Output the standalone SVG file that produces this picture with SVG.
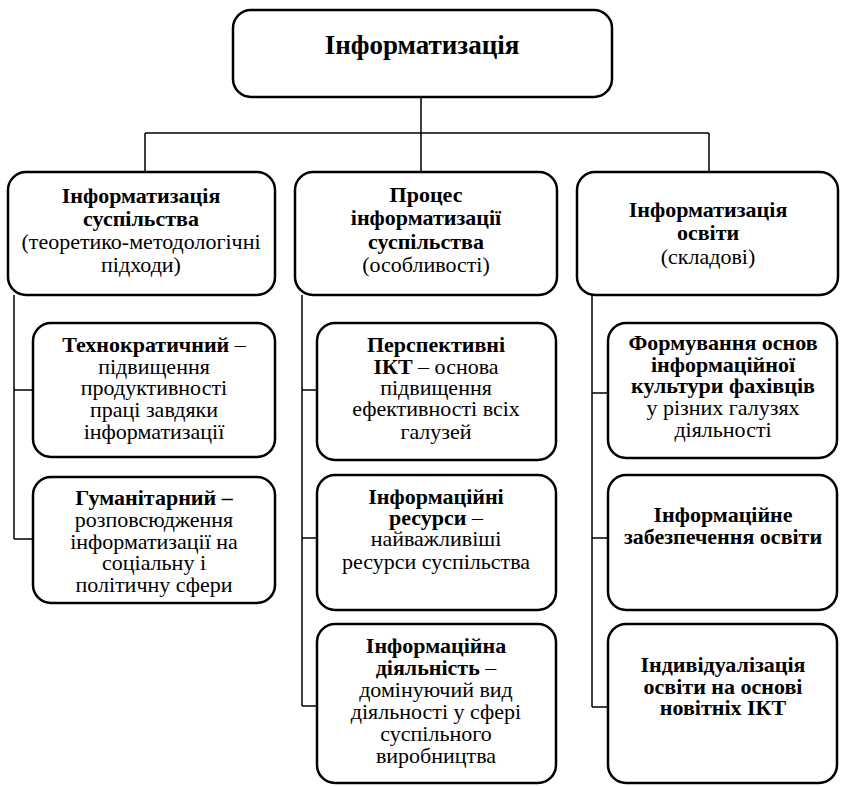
<svg xmlns="http://www.w3.org/2000/svg" width="846" height="786" viewBox="0 0 846 786" font-family="'Liberation Serif', 'DejaVu Serif', serif">
<style>
.box{fill:#fff;stroke:#000;stroke-width:2.5}
.c{fill:none;stroke:#000;stroke-width:1.5}
text{font-family:'Liberation Serif','DejaVu Serif',serif;font-size:22px;text-anchor:middle;fill:#000}
.b{font-weight:bold}
.t{font-size:27px;font-weight:bold}
</style>
<rect width="846" height="786" fill="#fff"/>
<g id="connectors">
<path class="c" d="M421 97V133M145 133H709M145 133V172M421 133V172M709 133V172"/>
<path class="c" d="M14 295V539M14 390H33M14 539H33"/>
<path class="c" d="M302 295V706M302 390H317M302 538H317M302 706H317"/>
<path class="c" d="M592 295V707M592 393H608M592 538H608M592 707H608"/>
</g>
<g id="root">
<rect class="box" x="233" y="10" width="379" height="87" rx="18"/>
<text class="t" x="422" y="54">Інформатизація</text>
</g>
<g id="h1">
<rect class="box" x="8" y="172" width="267" height="123" rx="18"/>
<text class="b" x="141" y="203">Інформатизація</text>
<text class="b" x="141" y="226">суспільства</text>
<text x="141" y="249">(теоретико-методологічні</text>
<text x="141" y="272">підходи)</text>
</g>
<g id="h2">
<rect class="box" x="295" y="172" width="262" height="123" rx="18"/>
<text class="b" x="426" y="202">Процес</text>
<text class="b" x="426" y="225">інформатизації</text>
<text class="b" x="426" y="249">суспільства</text>
<text x="426" y="272">(особливості)</text>
</g>
<g id="h3">
<rect class="box" x="577" y="172" width="261" height="123" rx="18"/>
<text class="b" x="708" y="217">Інформатизація</text>
<text class="b" x="708" y="240">освіти</text>
<text x="708" y="264">(складові)</text>
</g>
<g id="l1">
<rect class="box" x="33" y="323" width="242" height="134" rx="18"/>
<text x="154" y="352"><tspan class="b">Технократичний</tspan> –</text>
<text x="154" y="374">підвищення</text>
<text x="154" y="395">продуктивності</text>
<text x="154" y="417">праці завдяки</text>
<text x="154" y="439">інформатизації</text>
</g>
<g id="l2">
<rect class="box" x="33" y="477" width="242" height="126" rx="18"/>
<text x="154" y="505" class="b">Гуманітарний –</text>
<text x="154" y="527">розповсюдження</text>
<text x="154" y="549">інформатизації на</text>
<text x="154" y="570">соціальну і</text>
<text x="154" y="592">політичну сфери</text>
</g>
<g id="m1">
<rect class="box" x="317" y="323" width="239" height="137" rx="18"/>
<text x="436" y="352" class="b">Перспективні</text>
<text x="436" y="374"><tspan class="b">ІКТ</tspan> – основа</text>
<text x="436" y="395">підвищення</text>
<text x="436" y="416">ефективності всіх</text>
<text x="436" y="439">галузей</text>
</g>
<g id="m2">
<rect class="box" x="317" y="475" width="239" height="135" rx="18"/>
<text x="436" y="504" class="b">Інформаційні</text>
<text x="436" y="525"><tspan class="b">ресурси</tspan> –</text>
<text x="436" y="546">найважливіші</text>
<text x="436" y="569">ресурси суспільства</text>
</g>
<g id="m3">
<rect class="box" x="317" y="624" width="239" height="159" rx="18"/>
<text x="436" y="653" class="b">Інформаційна</text>
<text x="436" y="675"><tspan class="b">діяльність</tspan> –</text>
<text x="436" y="697">домінуючий вид</text>
<text x="436" y="719">діяльності у сфері</text>
<text x="436" y="741">суспільного</text>
<text x="436" y="763">виробництва</text>
</g>
<g id="r1">
<rect class="box" x="608" y="323" width="229" height="135" rx="18"/>
<text x="723" y="350" class="b">Формування основ</text>
<text x="723" y="372" class="b">інформаційної</text>
<text x="723" y="393" class="b">культури фахівців</text>
<text x="723" y="415">у різних галузях</text>
<text x="723" y="437">діяльності</text>
</g>
<g id="r2">
<rect class="box" x="608" y="475" width="229" height="135" rx="18"/>
<text x="723" y="522" class="b">Інформаційне</text>
<text x="723" y="544" class="b">забезпечення освіти</text>
</g>
<g id="r3">
<rect class="box" x="608" y="624" width="229" height="159" rx="18"/>
<text x="723" y="672" class="b">Індивідуалізація</text>
<text x="723" y="694" class="b">освіти на основі</text>
<text x="723" y="715" class="b">новітніх ІКТ</text>
</g>
</svg>
